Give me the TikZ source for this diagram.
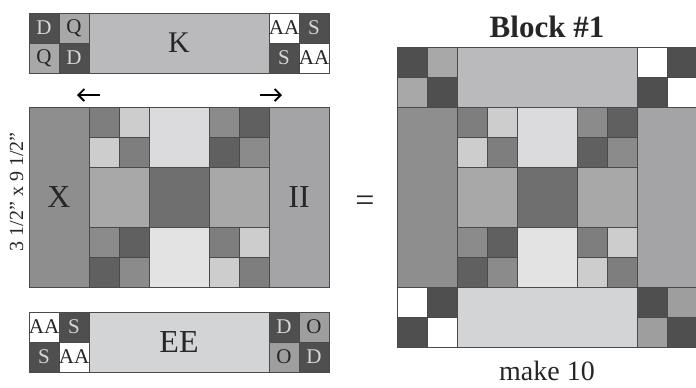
\documentclass[tikz,border=0pt]{standalone}
\usepackage{fontspec}
\setmainfont{Liberation Serif}
\usepackage{tikz}
\usetikzlibrary{arrows.meta,positioning}

\definecolor{seam}{HTML}{4A4A4A}
\definecolor{darkpc}{HTML}{4F4F4F}
\definecolor{qpc}{HTML}{A8A8A8}
\definecolor{kpc}{HTML}{BABABC}
\definecolor{eepc}{HTML}{D3D4D6}
\definecolor{opc}{HTML}{9E9E9E}
\definecolor{xpc}{HTML}{8E8E8E}
\definecolor{iipc}{HTML}{A4A4A6}
\definecolor{npmid}{HTML}{7E7E7E}
\definecolor{nplight}{HTML}{CDCDCD}
\definecolor{npgrey}{HTML}{8B8B8B}
\definecolor{npdark}{HTML}{606060}
\definecolor{nptop}{HTML}{DBDBDD}
\definecolor{npbottom}{HTML}{E3E3E3}
\definecolor{npside}{HTML}{A8A8A8}
\definecolor{npcentre}{HTML}{6F6F6F}
\definecolor{lighttext}{HTML}{D6D6D6}
\definecolor{darktext}{HTML}{262626}

\newcommand{\patch}[5]{\filldraw[piece,fill=#5] (#1,#2) rectangle ++(#3,#4);}
\newcommand{\fourpatch}[6]{%
  \patch{#1}{#2}{1}{1}{#3}
  \patch{#1+1}{#2}{1}{1}{#4}
  \patch{#1}{#2+1}{1}{1}{#5}
  \patch{#1+1}{#2+1}{1}{1}{#6}}
\newcommand{\kstrip}{%
  \fourpatch{0}{0}{darkpc}{qpc}{qpc}{darkpc}
  \patch{2}{0}{6}{2}{kpc}
  \fourpatch{8}{0}{white}{darkpc}{darkpc}{white}}
\newcommand{\centrepart}{%
  \patch{0}{0}{2}{6}{xpc}
  \fourpatch{2}{0}{npmid}{nplight}{nplight}{npmid}
  \patch{4}{0}{2}{2}{nptop}
  \fourpatch{6}{0}{npgrey}{npdark}{npdark}{npgrey}
  \patch{2}{2}{2}{2}{npside}
  \patch{4}{2}{2}{2}{npcentre}
  \patch{6}{2}{2}{2}{npside}
  \fourpatch{2}{4}{npgrey}{npdark}{npdark}{npgrey}
  \patch{4}{4}{2}{2}{npbottom}
  \fourpatch{6}{4}{npmid}{nplight}{nplight}{npmid}
  \patch{8}{0}{2}{6}{iipc}}
\newcommand{\eestrip}{%
  \fourpatch{0}{0}{white}{darkpc}{darkpc}{white}
  \patch{2}{0}{6}{2}{eepc}
  \fourpatch{8}{0}{darkpc}{opc}{opc}{darkpc}}

\begin{document}
\begin{tikzpicture}[x=30pt,y=-30pt,
    piece/.style={draw=seam,line width=0.7pt},
    onlight/.style={text=darktext,font=\fontsize{21}{21}\selectfont,inner sep=0pt},
    ondark/.style={onlight,text=lighttext},
    biglabel/.style={text=darktext,font=\fontsize{32}{32}\selectfont,inner sep=0pt},
    shiftarrow/.style={line width=1.8pt,-{Straight Barb[length=6pt,width=12pt]}},
    caption/.style={text=darktext,font=\fontsize{28}{28}\selectfont,inner sep=0pt}]
\useasboundingbox (0,0) rectangle (23.2,12.933);

% pieces laid out before sewing
\begin{scope}[shift={(0.967,0.433)}]
  \kstrip
  \node[ondark] (kD1) at (0.5,0.5) {D};
  \node[onlight] (kQ1) at (1.5,0.5) {Q};
  \node[onlight] (kQ2) at (0.5,1.5) {Q};
  \node[ondark] (kD2) at (1.5,1.5) {D};
  \node[biglabel,font=\fontsize{30}{30}\selectfont] (kK) at (5,1) {K};
  \node[onlight] (kAA1) at (8.5,0.5) {AA};
  \node[ondark] (kS1) at (9.5,0.5) {S};
  \node[ondark] (kS2) at (8.5,1.5) {S};
  \node[onlight] (kAA2) at (9.5,1.5) {AA};
\end{scope}
\begin{scope}[shift={(0.967,3.567)}]
  \centrepart
  \node[biglabel] (mX) at (1,3) {X};
  \node[biglabel] (mII) at (9,3) {II};
\end{scope}
\begin{scope}[shift={(0.967,10.4)}]
  \eestrip
  \node[onlight] (eAA1) at (0.5,0.5) {AA};
  \node[ondark] (eS1) at (1.5,0.5) {S};
  \node[ondark] (eS2) at (0.5,1.5) {S};
  \node[onlight] (eAA2) at (1.5,1.5) {AA};
  \node[biglabel] (eEE) at (5,1) {EE};
  \node[ondark] (eD1) at (8.5,0.5) {D};
  \node[onlight] (eO1) at (9.5,0.5) {O};
  \node[onlight] (eO2) at (8.5,1.5) {O};
  \node[ondark] (eD2) at (9.5,1.5) {D};
\end{scope}

\coordinate (lfrom) at (3.333,3.167);
\coordinate (lto) at (2.567,3.167);
\coordinate (rfrom) at (8.667,3.167);
\coordinate (rto) at (9.4,3.167);
\draw[shiftarrow] (lfrom) -- (lto);
\draw[shiftarrow] (rfrom) -- (rto);

\node[text=darktext,font=\fontsize{20}{20}\selectfont,rotate=90,inner sep=0pt]
  (size) at (0.55,6.4) {3 1/2" x 9 1/2"};
\node[text=darktext,font=\fontsize{34}{34}\selectfont,inner sep=0pt] (eq) at (12.167,6.8) {=};

% finished block
\begin{scope}[shift={(13.233,1.567)}]
  \kstrip
\end{scope}
\begin{scope}[shift={(13.233,3.567)}]
  \centrepart
\end{scope}
\begin{scope}[shift={(13.233,9.567)}]
  \eestrip
\end{scope}

\coordinate (blocktop) at (18.233,1.567);
\coordinate (blockbottom) at (18.233,11.567);
\node[caption,font=\bfseries\fontsize{31}{31}\selectfont,above=10pt of blocktop,anchor=base] (title) {Block \#1};
\node[caption,below=33pt of blockbottom,anchor=base] (count) {make 10};
\end{tikzpicture}
\end{document}
